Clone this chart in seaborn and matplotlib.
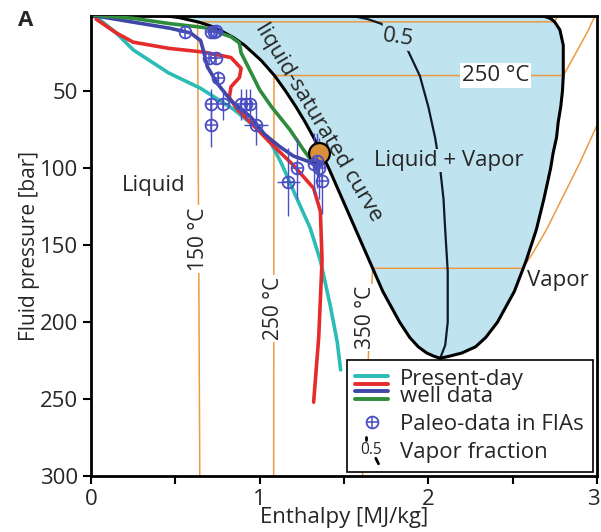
import matplotlib
matplotlib.use("Agg")
import matplotlib.pyplot as plt
import matplotlib.transforms as mtransforms
import numpy as np
import pandas as pd
import seaborn as sns
from matplotlib.lines import Line2D
from matplotlib.legend_handler import HandlerBase

sns.set_style("ticks")
plt.rcParams["font.family"] = ["Open Sans", "DejaVu Sans"]

# Two-phase dome (pressure in bar, enthalpy in MJ/kg)
sat_p = [1, 2, 3, 5, 7.5, 10, 15, 20, 30, 40, 50, 60, 70, 80, 90, 100,
         120, 140, 160, 180, 200, 210, 216, 220, 222, 223.5]
sat_hf = [0.45, 0.52, 0.56, 0.64, 0.71, 0.76, 0.845, 0.91, 1.01, 1.09, 1.155,
          1.215, 1.27, 1.32, 1.365, 1.41, 1.49, 1.57, 1.65, 1.73, 1.83, 1.89,
          1.94, 1.99, 2.03, 2.07]
sat_hg = [2.68, 2.71, 2.73, 2.75, 2.765, 2.78, 2.79, 2.80, 2.80, 2.80, 2.795,
          2.785, 2.77, 2.76, 2.74, 2.725, 2.685, 2.64, 2.58, 2.51, 2.41, 2.34,
          2.28, 2.20, 2.13, 2.07]

# Vapor fraction 0.5
vf_p = [1, 3, 6, 10, 19, 40, 60, 80, 100, 120, 140, 167, 200, 215, 223.5]
vf_h = [1.55, 1.64, 1.72, 1.77, 1.86, 1.95, 2.00, 2.04, 2.07, 2.09, 2.10,
        2.115, 2.115, 2.10, 2.07]

# Isotherms
iso150_h = [0.645, 0.632, 2.746, 2.76, 2.776]
iso150_p = [300, 4.8, 4.8, 2.5, 1]
iso250_h = [1.083, 1.085, 2.80, 2.84, 2.88, 2.92, 2.95, 2.97, 2.99]
iso250_p = [300, 39.7, 39.7, 32, 24, 16, 10, 5, 1]
iso350_h = [1.61, 1.67, 2.56, 2.62, 2.70, 2.80, 2.90, 3.0]
iso350_p = [300, 165, 165, 155, 140, 118, 96, 72]

# Present-day well data
cyan_h = [0.03, 0.15, 0.25, 0.46, 0.65, 0.85, 1.05, 1.13, 1.21, 1.30, 1.36,
          1.42, 1.46, 1.48]
cyan_p = [1.5, 12, 23, 38, 48, 62, 80, 97, 117, 139, 160, 190, 213, 231]
red_h = [0.03, 0.15, 0.25, 0.46, 0.67, 0.83, 0.89, 0.88, 0.83, 0.82, 0.87,
         0.99, 1.05, 1.20, 1.32, 1.36, 1.37, 1.35, 1.32]
red_p = [3, 12, 18, 22, 24.5, 28, 35, 41, 47, 54, 62, 75, 82, 98, 113, 128,
         160, 210, 252]
blue_h = [0.02, 0.25, 0.47, 0.59, 0.65, 0.67, 0.69, 0.75, 0.83, 0.95, 1.03,
          1.12, 1.20, 1.30, 1.35]
blue_p = [0.8, 5, 9, 12, 17, 25, 34, 45, 56, 67, 78, 86, 92, 96, 100]
green_h = [0.02, 0.25, 0.47, 0.67, 0.83, 0.88, 0.89, 0.95, 1.00, 1.07, 1.18,
           1.26, 1.32, 1.35]
green_p = [0.5, 2.5, 6, 8.5, 14.5, 18.6, 25, 38, 49, 60, 75, 88, 97, 104]

# Paleo-data in FIAs
fia_h = [0.56, 0.71, 0.73, 0.74, 0.70, 0.74, 0.75, 0.71, 0.71, 0.78, 0.89,
         0.92, 0.94, 0.98, 1.17, 1.22, 1.32, 1.34, 1.35, 1.37]
fia_p = [11.5, 11.5, 11.5, 11, 28.5, 28.5, 41.5, 58.5, 72, 58.5, 58.5, 58.5,
         58.5, 72, 109, 100, 97, 95, 100, 108]
fia_herr = [0, 0, 0, 0, 0, 0, 0, 0, 0, 0, 0, 0, 0, 0.07, 0.07, 0, 0, 0, 0, 0]
fia_perr = [0, 0, 0, 0, 0, 0, 5, 10, 14, 10, 10, 10, 10, 13, 22, 20, 20, 18,
            20, 22]
mark_h, mark_p = [1.35], [90]

fill_c = "#bfe3ef"
orange = "#eb9a45"
well_colors = {"cyan": "#2bbcb6", "red": "#e52b2b", "blue": "#3e46a8",
               "green": "#2e8c3d"}
fia_c = "#4a4ec2"

fig = plt.figure(figsize=(6.01, 5.32), dpi=100)
ax = fig.add_axes([91 / 601, 1 - 476 / 532, 506 / 601, 460 / 532])

ax.fill_betweenx(sat_p, sat_hf, sat_hg, color=fill_c, lw=0, zorder=0)

for h, p in [(iso150_h, iso150_p), (iso250_h, iso250_p), (iso350_h, iso350_p)]:
    sns.lineplot(x=h, y=p, sort=False, estimator=None, color=orange, lw=1.1,
                 ax=ax, zorder=1)

sns.lineplot(x=vf_h, y=vf_p, sort=False, estimator=None, color="#111a26",
             lw=1.6, ax=ax, zorder=2)
sns.lineplot(x=sat_hf + sat_hg[::-1], y=sat_p + sat_p[::-1], sort=False,
             estimator=None, color="black", lw=2.2, ax=ax, zorder=3)

wells = pd.DataFrame({
    "h": cyan_h + red_h + blue_h + green_h,
    "p": cyan_p + red_p + blue_p + green_p,
    "well": ["cyan"] * len(cyan_h) + ["red"] * len(red_h)
            + ["blue"] * len(blue_h) + ["green"] * len(green_h),
})
sns.lineplot(data=wells, x="h", y="p", hue="well", palette=well_colors,
             sort=False, estimator=None, lw=2.6, legend=False, ax=ax, zorder=4)

ax.errorbar(fia_h, fia_p, xerr=fia_herr, yerr=fia_perr, fmt="none",
            ecolor=fia_c, elinewidth=1.0, zorder=5)
ax.plot(mark_h, mark_p, "o", ms=15, mfc="#d9913c", mec="black", mew=1.6,
        zorder=5)
ax.plot(fia_h, fia_p, "o", ms=8.5, mfc="none", mec=fia_c, mew=1.3, zorder=6)
ax.plot(fia_h, fia_p, "+", ms=8.5, mec=fia_c, mew=1.1, zorder=6)

fs = 16
fsv = 15
wbox = dict(fc="white", ec="none", pad=1.5)
ax.text(0.37, 111, "Liquid", fontsize=fs, ha="center", va="center")
ax.text(2.12, 95, "Liquid + Vapor", fontsize=fs, ha="center", va="center",
        bbox=dict(fc=fill_c, ec="none", pad=1), zorder=3)
ax.text(2.77, 173, "Vapor", fontsize=fs, ha="center", va="center")
ax.text(1.35, 70, "liquid-saturated curve", fontsize=fs, ha="center",
        va="center", rotation=-59, rotation_mode="anchor")
ax.text(1.82, 15, "0.5", fontsize=fs, ha="center", va="center", rotation=-8,
        bbox=dict(fc=fill_c, ec="none", pad=1), zorder=3)
ax.text(2.40, 39.5, "250 °C", fontsize=fs, ha="center", va="center",
        bbox=wbox, zorder=2)
ax.text(0.638, 146, "150 °C", fontsize=fsv, ha="center", va="center",
        rotation=90, bbox=wbox, zorder=2)
ax.text(1.084, 191, "250 °C", fontsize=fsv, ha="center", va="center",
        rotation=90, bbox=wbox, zorder=2)
ax.text(1.63, 197, "350 °C", fontsize=fsv, ha="center", va="center",
        rotation=90, bbox=wbox, zorder=2)

ax.set_xlim(0, 3)
ax.set_ylim(300, 1)
ax.set_xticks([0, 1, 2, 3])
ax.set_xticks([0.5, 1.5, 2.5], minor=True)
ax.set_yticks([50, 100, 150, 200, 250, 300])
ax.tick_params(which="both", direction="out", length=6, width=1.5,
               labelsize=fs, color="black")
for s in ax.spines.values():
    s.set_linewidth(2)
    s.set_color("black")
ax.set_xlabel("Enthalpy [MJ/kg]", fontsize=fs, labelpad=-2)
ax.set_ylabel("Fluid pressure [bar]", fontsize=fsv, labelpad=0)
fig.text(0.03, 0.962, "A", fontsize=fs, weight="bold", ha="left", va="center")

# keep the "3" inside the picture
last = ax.get_xticklabels()[-1]
last.set_transform(last.get_transform() + mtransforms.ScaledTranslation(
    -4 / 100, 0, fig.dpi_scale_trans))


# Legend handlers
class WellStack:
    def __init__(self, colors):
        self.colors = colors


class HandlerStack(HandlerBase):
    def create_artists(self, legend, orig_handle, xdescent, ydescent, width,
                       height, fontsize, trans):
        arts = []
        for i, c in enumerate(orig_handle.colors):
            y = height * (1.27 - i * 0.48) - ydescent
            arts.append(Line2D([-xdescent, width - xdescent], [y, y], color=c,
                               lw=2.8, transform=trans))
        return arts


class VaporFrac:
    pass


class HandlerVF(HandlerBase):
    def create_artists(self, legend, orig_handle, xdescent, ydescent, width,
                       height, fontsize, trans):
        cx = width / 2 - xdescent
        cy = height / 2 - ydescent
        t = plt.Text(cx, cy, "0.5", fontsize=fontsize * 0.7, ha="center",
                     va="center", transform=trans)
        top = Line2D([cx - 4, cx - 4], [cy + 7, cy + 9], color="black", lw=2,
                     transform=trans)
        bot = Line2D([cx + 3, cx + 5], [cy - 6, cy - 10], color="black", lw=2,
                     transform=trans)
        return [t, top, bot]


h_wells = WellStack([well_colors[k] for k in ["cyan", "red", "blue", "green"]])
h_fia = (Line2D([], [], ls="none", marker="o", ms=8.5, mfc="none", mec=fia_c,
                mew=1.3),
         Line2D([], [], ls="none", marker="+", ms=8.5, mec=fia_c, mew=1.1))
h_vf = VaporFrac()
leg = ax.legend([h_wells, h_fia, h_vf],
                ["Present-day\nwell data", "Paleo-data in FIAs",
                 "Vapor fraction"],
                handler_map={WellStack: HandlerStack(), VaporFrac: HandlerVF()},
                loc="lower right", fontsize=fs, frameon=True, fancybox=False,
                borderaxespad=0.2, handlelength=1.45, handletextpad=0.55,
                labelspacing=0.3, borderpad=0.4)
leg.get_frame().set_edgecolor("black")
leg.get_frame().set_linewidth(1.2)
leg.get_frame().set_alpha(1)
leg.set_zorder(10)
for t in leg.get_texts():
    t.set_linespacing(0.8)

fig.savefig("out.png", dpi=100)
